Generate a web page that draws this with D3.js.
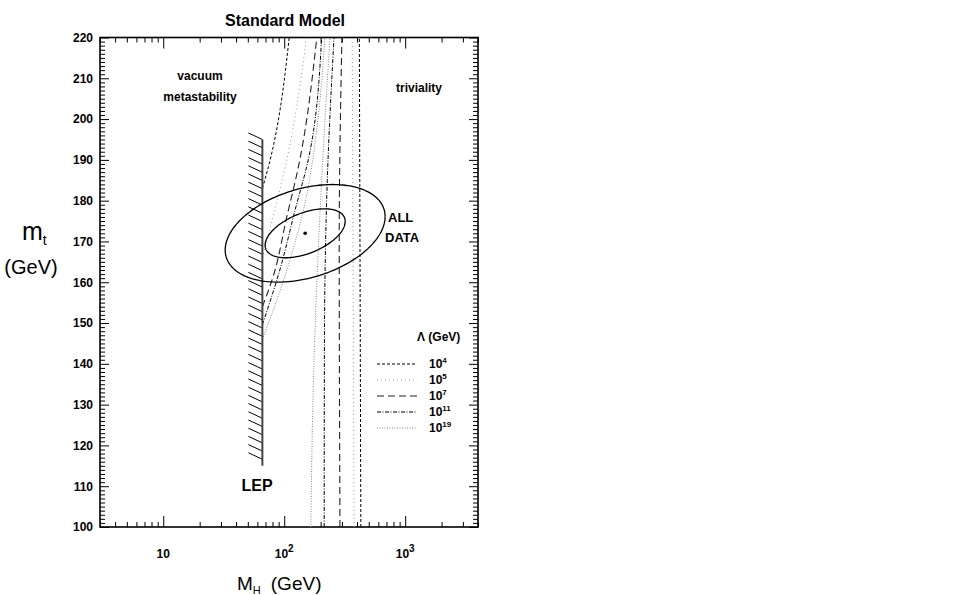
<!DOCTYPE html>
<html><head><meta charset="utf-8">
<script src="https://cdn.jsdelivr.net/npm/d3@7"></script>
<style>
body{margin:0;background:#fff}
svg{font-family:"Liberation Sans",Arial,Helvetica,sans-serif}
</style></head><body>
<svg id="c" width="968" height="595"></svg>
<script>
// ---------------- data ----------------
const xDomain = [3, 4000];           // M_H (GeV), log scale
const yDomain = [100, 220];          // m_t (GeV)
const xMajorTicks = [10, 100, 1000];
const xTickBase = ["10", "10", "10"];
const xTickExp = ["", "2", "3"];
const yMajorTicks = [100,110,120,130,140,150,160,170,180,190,200,210,220];

const lepLimit = 66;                 // GeV
const lepMtRange = [115, 195];

const fitCenter = [149, 172];        // [M_H, m_t]
const ellipseHalfWidthDecades = [0.331, 0.661];
const ellipseHalfHeightGeV = [6.0, 11.96];
const ellipsePhaseDeg = [61, 70];

const lambdaExponents = [4, 5, 7, 11, 19];
// lower (vacuum stability) bounds: [M_H, m_t]
const stab4  = [[66,183],[74,188.3],[110,220]];
const stab5  = [[66,166],[84,178],[105,190],[153,220]];
const stab7  = [[66,154],[81,161.4],[105,176],[131,188.3],[186,220]];
const stab11 = [[66,149.6],[92,163],[123,177.7],[158,190],[204,220]];
const stab19 = [[66,146],[100,161],[150,180],[190,200],[217,220]];
// upper (triviality) bounds
const triv4  = [[430,100],[418,220]];
const triv5  = [[378,100],[365,220]];
const triv7  = [[289,100],[285,170],[300,220]];
const triv11 = [[214,100],[215,145],[227,185],[258,220]];
const triv19 = [[166,100],[176,140],[200,180],[239,220]];

const stabCurves = [stab4, stab5, stab7, stab11, stab19];
const trivCurves = [triv4, triv5, triv7, triv11, triv19];

// ---------------- styles ----------------
const lineStyles = [
  {dash:"3,2",        color:"#000", w:1},
  {dash:"1,3",        color:"#999", w:1},
  {dash:"7,4",        color:"#222", w:1.1},
  {dash:"4,1.5,1,1.5",color:"#000", w:1},
  {dash:"1,1.5",      color:"#888", w:1}
];

const L = 100, R = 478, T = 37.5, B = 527;
const svg = d3.select("#c");
const x = d3.scaleLog().domain(xDomain).range([L, R]);
const y = d3.scaleLinear().domain(yDomain).range([B, T]);

svg.append("defs").append("clipPath").attr("id","clip")
  .append("rect").attr("x",L).attr("y",T).attr("width",R-L).attr("height",B-T);

// ---------------- axes ----------------
const xMinor = [];
[1,10,100,1000].forEach(d => { for (let k=2;k<=9;k++){ const v=d*k; if (v>=xDomain[0] && v<=xDomain[1]) xMinor.push(v);} });
const yMinor = d3.range(yDomain[0], yDomain[1]+0.5, 1).filter(v => v % 10 !== 0);

function styleAxis(g){ g.select(".domain").remove(); g.selectAll("line").attr("stroke","#000").attr("stroke-width",1); }

svg.append("g").attr("transform",`translate(0,${B})`)
  .call(d3.axisBottom(x).tickValues(xMajorTicks).tickSize(-11).tickFormat(()=>"")).call(styleAxis);
svg.append("g").attr("transform",`translate(0,${B})`)
  .call(d3.axisBottom(x).tickValues(xMinor).tickSize(-5).tickFormat(()=>"")).call(styleAxis);
svg.append("g").attr("transform",`translate(0,${T})`)
  .call(d3.axisTop(x).tickValues(xMajorTicks).tickSize(-11).tickFormat(()=>"")).call(styleAxis);
svg.append("g").attr("transform",`translate(0,${T})`)
  .call(d3.axisTop(x).tickValues(xMinor).tickSize(-5).tickFormat(()=>"")).call(styleAxis);

svg.append("g").attr("transform",`translate(${L},0)`)
  .call(d3.axisLeft(y).tickValues(yMajorTicks).tickSize(-9).tickPadding(7).tickFormat(d3.format("d")))
  .call(styleAxis)
  .call(g => g.selectAll("text").attr("font-size",12).attr("font-weight","bold").attr("fill","#000")
     .attr("font-family","'Liberation Sans',Arial,sans-serif"));
svg.append("g").attr("transform",`translate(${L},0)`)
  .call(d3.axisLeft(y).tickValues(yMinor).tickSize(-5).tickFormat(()=>"")).call(styleAxis);
svg.append("g").attr("transform",`translate(${R},0)`)
  .call(d3.axisRight(y).tickValues(yMajorTicks).tickSize(-9).tickFormat(()=>"")).call(styleAxis);
svg.append("g").attr("transform",`translate(${R},0)`)
  .call(d3.axisRight(y).tickValues(yMinor).tickSize(-5).tickFormat(()=>"")).call(styleAxis);

// x tick labels
xMajorTicks.forEach((v,i) => {
  const t = svg.append("text").attr("x", x(v)).attr("y", B+31)
    .attr("text-anchor","middle").attr("font-size",12).attr("font-weight","bold");
  t.append("tspan").text(xTickBase[i]);
  if (xTickExp[i]) t.append("tspan").attr("dy",-6).attr("font-size",10).text(xTickExp[i]);
});

// frame
svg.append("rect").attr("x",L).attr("y",T).attr("width",R-L).attr("height",B-T)
  .attr("fill","none").attr("stroke","#000").attr("stroke-width",1.6);

// ---------------- plot content ----------------
const plot = svg.append("g").attr("clip-path","url(#clip)");
const line = d3.line().x(d => x(d[0])).y(d => y(d[1])).curve(d3.curveMonotoneY);

stabCurves.forEach((c,i) => {
  const s = lineStyles[i];
  plot.append("path").attr("d", line(c)).attr("fill","none")
    .attr("stroke",s.color).attr("stroke-width",s.w).attr("stroke-dasharray",s.dash);
});
trivCurves.forEach((c,i) => {
  const s = lineStyles[i];
  plot.append("path").attr("d", line(c)).attr("fill","none")
    .attr("stroke",s.color).attr("stroke-width",s.w).attr("stroke-dasharray",s.dash);
});

// LEP band with hatching
const lx = x(lepLimit), yTop = y(lepMtRange[1]), yBot = y(lepMtRange[0]);
const hatchStep = 8.2;
for (let yy = yTop; yy <= yBot; yy += hatchStep) {
  plot.append("line").attr("x1", lx-14).attr("y1", yy-6.5).attr("x2", lx).attr("y2", yy)
    .attr("stroke","#000").attr("stroke-width",1);
}
plot.append("line").attr("x1",lx).attr("x2",lx).attr("y1",yTop).attr("y2",yBot)
  .attr("stroke","#444").attr("stroke-width",2);

// fit ellipses
ellipseHalfWidthDecades.forEach((A,i) => {
  const Bh = ellipseHalfHeightGeV[i], ph = ellipsePhaseDeg[i]*Math.PI/180;
  const pts = d3.range(0, 361, 2).map(a => {
    const t = a*Math.PI/180;
    return [Math.pow(10, Math.log10(fitCenter[0]) + A*Math.cos(t)), fitCenter[1] + Bh*Math.cos(t - ph)];
  });
  plot.append("path").attr("d", d3.line().x(d=>x(d[0])).y(d=>y(d[1]))(pts))
    .attr("fill","none").attr("stroke","#000").attr("stroke-width",1.3);
});
plot.append("circle").attr("cx",x(fitCenter[0])).attr("cy",y(fitCenter[1])).attr("r",1.8).attr("fill","#000");

// ---------------- text ----------------
function txt(xp, yp, s, size, weight, anchor){
  return svg.append("text").attr("x",xp).attr("y",yp).attr("font-size",size)
    .attr("font-weight",weight||"normal").attr("text-anchor",anchor||"start").text(s);
}
txt(285, 26, "Standard Model", 16, "bold", "middle");
txt(200, 80, "vacuum", 12, "bold", "middle");
txt(200, 101, "metastability", 12, "bold", "middle");
txt(419, 92, "triviality", 12, "bold", "middle");
txt(388, 222, "ALL", 13, "bold");
txt(385, 242, "DATA", 13, "bold");
txt(257, 491, "LEP", 16, "bold", "middle");

// legend
txt(417, 341, "Λ  (GeV)", 12, "bold");
lambdaExponents.forEach((e,i) => {
  const yy = 364 + i*16, s = lineStyles[i];
  svg.append("line").attr("x1",377).attr("x2",417).attr("y1",yy).attr("y2",yy)
    .attr("stroke",s.color).attr("stroke-width",s.w).attr("stroke-dasharray",s.dash);
  const t = txt(429, yy+4, "", 12, "bold");
  t.append("tspan").text("10");
  t.append("tspan").attr("dy",-5).attr("font-size",8).text(e);
});

// axis titles
const yl = svg.append("text").attr("x",22).attr("y",240).attr("font-size",25);
yl.append("tspan").text("m");
yl.append("tspan").attr("dy",5).attr("font-size",14).text("t");
txt(31, 274, "(GeV)", 20, "normal", "middle");

const xl = svg.append("text").attr("x",237).attr("y",590).attr("font-size",19);
xl.append("tspan").text("M");
xl.append("tspan").attr("dy",4).attr("font-size",11).text("H");
xl.append("tspan").attr("dy",-4).attr("dx",10).text("(GeV)");
</script>
</body></html>
